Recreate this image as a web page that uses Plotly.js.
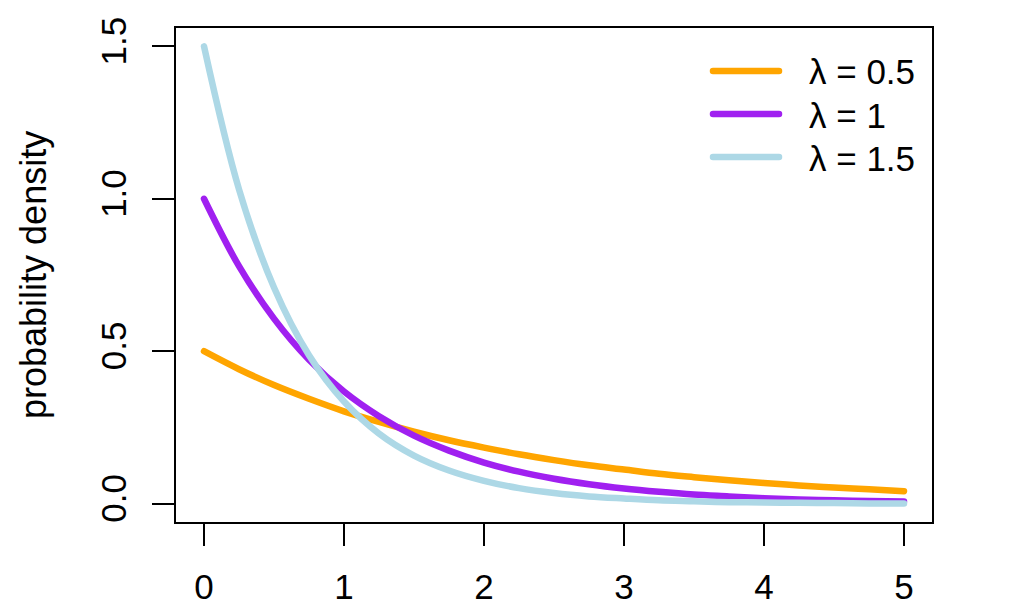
<!DOCTYPE html>
<html>
<head>
<meta charset="utf-8">
<script src="https://cdn.plot.ly/plotly-3.0.1.min.js"></script>
<style>
html,body{margin:0;padding:0;background:#fff;}
#chart{width:1024px;height:616px;}
path.js-line, .shapelayer path{stroke-linecap:round !important;stroke-linejoin:round !important;}
</style>
</head>
<body>
<div id="chart"></div>
<script>
const xVals = [0, 0.25, 0.5, 0.75, 1, 1.25, 1.5, 1.75, 2, 2.25, 2.5, 2.75, 3, 3.25, 3.5, 3.75, 4, 4.25, 4.5, 4.75, 5];
// lambda = 0.5
const dens05 = [0.500, 0.441, 0.389, 0.344, 0.303, 0.268, 0.236, 0.208, 0.184, 0.162, 0.143, 0.126, 0.112, 0.098, 0.087, 0.077, 0.068, 0.060, 0.053, 0.047, 0.041];
// lambda = 1
const dens1 = [1.000, 0.779, 0.607, 0.472, 0.368, 0.287, 0.223, 0.174, 0.135, 0.105, 0.082, 0.064, 0.050, 0.039, 0.030, 0.024, 0.018, 0.014, 0.011, 0.009, 0.007];
// lambda = 1.5
const dens15 = [1.500, 1.031, 0.709, 0.487, 0.335, 0.230, 0.158, 0.109, 0.075, 0.051, 0.035, 0.024, 0.017, 0.011, 0.008, 0.005, 0.004, 0.003, 0.002, 0.001, 0.001];

const seriesLabels = ["λ = 0.5", "λ = 1", "λ = 1.5"];
const seriesColors = ["#FFA500", "#A020F0", "#ADD8E6"];
const xTicks = [0, 1, 2, 3, 4, 5];
const yTicks = [0, 0.5, 1, 1.5];
const yTickText = ["0.0", "0.5", "1.0", "1.5"];

const FONT = "Liberation Sans, Arial, Helvetica, sans-serif";
const LW = 6.5;

const series = [dens05, dens1, dens15];
const traces = series.map((ys, i) => ({
  x: xVals, y: ys, type: "scatter", mode: "lines",
  line: {color: seriesColors[i], width: LW, shape: "spline", smoothing: 1},
  name: seriesLabels[i], showlegend: false, hoverinfo: "skip"
}));

// plot area in px
const L = 176, R = 932, T = 28, B = 522, W = 1024, H = 616;
const pw = R - L, ph = B - T;
const px2x = p => (p - L) / pw;
const px2y = p => (B - p) / ph;

const legRows = [71, 114, 157];
const shapes = [];
const annotations = [];
seriesLabels.forEach((lab, i) => {
  shapes.push({type: "line", xref: "paper", yref: "paper",
    x0: px2x(713), x1: px2x(779), y0: px2y(legRows[i]), y1: px2y(legRows[i]),
    line: {color: seriesColors[i], width: LW}});
  annotations.push({xref: "paper", yref: "paper", x: px2x(807), y: px2y(legRows[i] + 1),
    xanchor: "left", yanchor: "middle", showarrow: false, text: lab,
    font: {family: FONT, size: 35, color: "#000"}});
});
annotations.push({xref: "paper", yref: "paper", x: px2x(33), y: 0.5,
  xanchor: "center", yanchor: "middle", showarrow: false, textangle: -90,
  text: "probability density", font: {family: FONT, size: 36, color: "#000"}});

const layout = {
  width: W, height: H,
  margin: {l: L, r: W - R, t: T, b: H - B, pad: 0},
  paper_bgcolor: "#fff", plot_bgcolor: "#fff",
  font: {family: FONT, color: "#000"},
  showlegend: false,
  xaxis: {range: [-0.2, 5.2], tickmode: "array", tickvals: xTicks, ticktext: xTicks.map(String),
    ticks: "outside", ticklen: 22, tickwidth: 2.2, tickcolor: "#000",
    showline: true, linecolor: "#000", linewidth: 2.2, mirror: true,
    showgrid: false, zeroline: false, tickfont: {family: FONT, size: 35, color: "#000"},
    ticklabelstandoff: 11, fixedrange: true},
  yaxis: {range: [-0.06, 1.56], tickmode: "array", tickvals: yTicks, ticktext: yTickText,
    ticks: "outside", ticklen: 22, tickwidth: 2.2, tickcolor: "#000", tickangle: -90,
    showline: true, linecolor: "#000", linewidth: 2.2, mirror: true,
    showgrid: false, zeroline: false, tickfont: {family: FONT, size: 35, color: "#000"},
    ticklabelstandoff: 12, fixedrange: true},
  shapes: shapes,
  annotations: annotations
};

Plotly.newPlot("chart", traces, layout, {staticPlot: true, displayModeBar: false});
</script>
</body>
</html>
